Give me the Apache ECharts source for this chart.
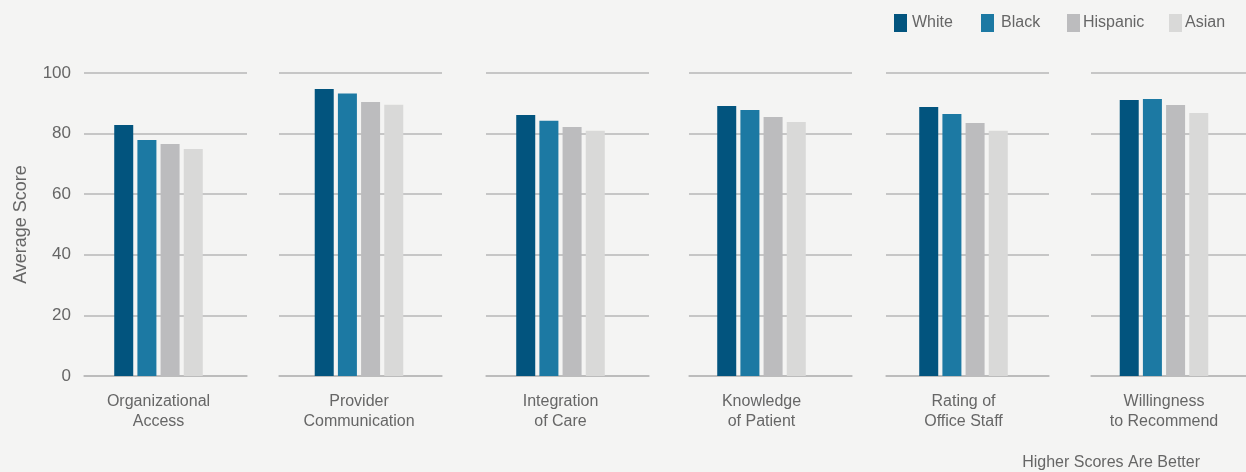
<!DOCTYPE html>
<html>
<head>
<meta charset="utf-8">
<script src="https://cdn.jsdelivr.net/npm/echarts@6/dist/echarts.min.js"></script>
<style>
  html, body { margin: 0; padding: 0; background: #f4f4f3; }
  #chart { width: 1246px; height: 472px; }
</style>
</head>
<body>
<div id="chart"></div>
<script>
// Survey measures (x categories)
const categories = [
  'Organizational\nAccess',
  'Provider\nCommunication',
  'Integration\nof Care',
  'Knowledge\nof Patient',
  'Rating of\nOffice Staff',
  'Willingness\nto Recommend'
];

// Average score per group, one value per measure
const whiteScores    = [82.8, 94.7, 86.1, 89.1, 88.8, 91.1];
const blackScores    = [77.9, 93.2, 84.2, 87.8, 86.5, 91.4];
const hispanicScores = [76.6, 90.4, 82.2, 85.5, 83.5, 89.4];
const asianScores    = [74.9, 89.5, 80.9, 83.8, 80.9, 86.8];

const seriesNames = ['White', 'Black', 'Hispanic', 'Asian'];
const yTicks = { min: 0, max: 100, interval: 20 };

const colors = ['#02547e', '#1c79a3', '#bcbcbe', '#d9d9d8'];
const textColor = '#666666';
const fontFamily = '"Liberation Sans", Arial, Helvetica, sans-serif';

const plotTop = 73;
const plotHeight = 303;

// Each measure gets a short panel of horizontal rules and its own bar cluster
const panelLefts = [84, 279, 486, 689, 886, 1091];
const panelWidth = 163;
const clusterCenters = [158.5, 359, 560.5, 761.5, 963.5, 1164];
const clusterWidth = 160;

const grids = [];
const xAxes = [];
const yAxes = [];
const series = [];
const seriesData = [whiteScores, blackScores, hispanicScores, asianScores];

panelLefts.forEach((left, i) => {
  // rule panel
  const g = grids.length;
  grids.push({ left: left, top: plotTop, width: panelWidth, height: plotHeight });
  xAxes.push({
    gridIndex: g, type: 'category', data: [''],
    axisLine: { show: true, lineStyle: { color: '#b9b9b9', width: 1.5 } },
    axisTick: { show: false }, axisLabel: { show: false }, splitLine: { show: false }
  });
  yAxes.push({
    gridIndex: g, type: 'value',
    min: yTicks.min, max: yTicks.max, interval: yTicks.interval,
    axisLine: { show: false }, axisTick: { show: false },
    axisLabel: {
      show: i === 0, color: textColor, fontSize: 17, fontFamily: fontFamily, margin: 13
    },
    splitLine: { show: true, lineStyle: { color: '#c6c6c6', width: 2 } },
    name: i === 0 ? 'Average Score' : '',
    nameLocation: 'middle', nameGap: 54, nameRotate: 90,
    nameTextStyle: { color: textColor, fontSize: 18, fontFamily: fontFamily }
  });

  // bar panel for this measure
  const b = grids.length;
  grids.push({
    left: clusterCenters[i] - clusterWidth / 2, top: plotTop,
    width: clusterWidth, height: plotHeight
  });
  xAxes.push({
    gridIndex: b, type: 'category', data: [categories[i]],
    axisLine: { show: false }, axisTick: { show: false },
    axisLabel: {
      color: textColor, fontSize: 16, fontFamily: fontFamily,
      lineHeight: 20, margin: 16, interval: 0
    }
  });
  yAxes.push({
    gridIndex: b, type: 'value',
    min: yTicks.min, max: yTicks.max, interval: yTicks.interval,
    show: false, splitLine: { show: false }
  });

  seriesNames.forEach((name, k) => {
    series.push({
      name: name,
      type: 'bar',
      xAxisIndex: b,
      yAxisIndex: b,
      data: [seriesData[k][i]],
      barWidth: 19,
      barGap: '22%',
      itemStyle: { color: colors[k] },
      z: 3
    });
  });
});

// Legend entries placed individually along the top right
const legendLefts = [889, 976, 1062, 1164];
const legendTextPad = [0, 2, -2, -2];
const legends = seriesNames.map((name, k) => ({
  data: [name],
  left: legendLefts[k], top: 9,
  itemWidth: 13, itemHeight: 18, itemGap: 0,
  icon: 'rect',
  textStyle: {
    color: textColor, fontSize: 16, fontFamily: fontFamily,
    padding: [0, 0, 0, legendTextPad[k]]
  },
  selectedMode: false
}));

const chart = echarts.init(document.getElementById('chart'), null, { renderer: 'canvas' });
chart.setOption({
  backgroundColor: '#f4f4f3',
  animation: false,
  legend: legends,
  grid: grids,
  xAxis: xAxes,
  yAxis: yAxes,
  series: series,
  graphic: [{
    type: 'text',
    right: 46, top: 455,
    style: {
      text: 'Higher Scores Are Better',
      fill: textColor, fontSize: 16, fontFamily: fontFamily
    }
  }]
});
</script>
</body>
</html>
